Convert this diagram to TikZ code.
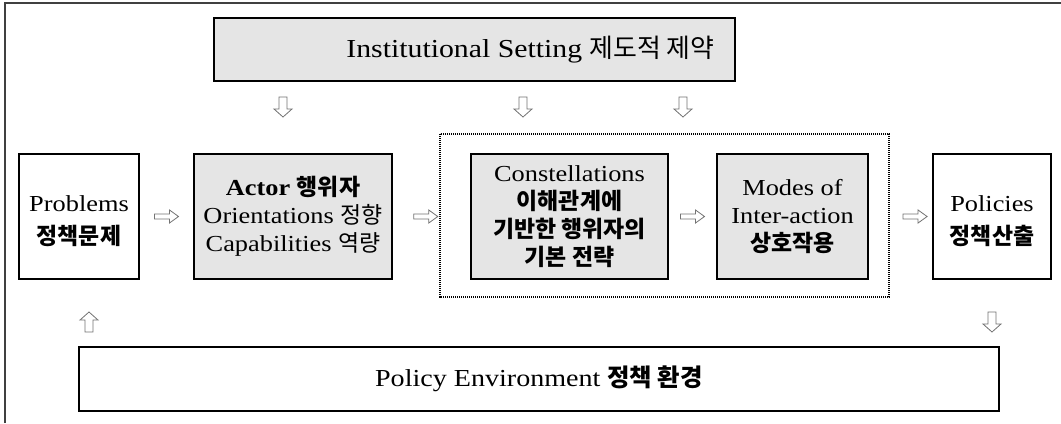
\documentclass[tikz,border=0pt]{standalone}
\usepackage{fontspec}
\usetikzlibrary{calc}
\setmainfont{Liberation Serif}[FakeStretch=1.15]
\newfontfamily\krfont{Noto Sans CJK KR}
\newcommand\kr[1]{{\krfont #1}}
\newcommand\krb[1]{{\krfont\bfseries #1}}
% taller first line, to sit two-line texts a little lower
\newcommand\toplift{\rule{0pt}{25pt}}

\tikzset{
  frameline/.style={line width=1.8bp, draw=black!75},
  box/.style={draw=black, line width=1.1bp, align=center, inner sep=0pt,
              font=\fontsize{23}{28}\selectfont},
  twoline/.style={font=\fontsize{23}{33}\selectfont},
  shaded/.style={box, fill=black!10},
  groupbox/.style={draw=black, line width=1.6bp, dash pattern=on 1.2bp off 0.8bp},
  hollow/.style={draw=black!55, fill=white, line width=0.8bp, line join=miter},
  rarrow/.pic={\path[hollow] (-12,-2.5) -- (3,-2.5) -- (3,-6.5) -- (12,0)
                -- (3,6.5) -- (3,2.5) -- (-12,2.5) -- cycle;},
  darrow/.pic={\path[hollow] (-4,-10) -- (4,-10) -- (4,2) -- (9,2) -- (0,10)
                -- (-9,2) -- (-4,2) -- cycle;},
  uarrow/.pic={\path[hollow] (-4,10) -- (4,10) -- (4,-2) -- (9,-2) -- (0,-10)
                -- (-9,-2) -- (-4,-2) -- cycle;},
}

\begin{document}
\begin{tikzpicture}[x=1bp, y=-1bp]
  \useasboundingbox (0,0) rectangle (1061,423);
  \fill[white] (0,0) rectangle (1061,423);

  % outer frame (top and left edges)
  \draw[frameline] (5,423) -- (5,3) -- (1061,3);

  % institutional setting
  \node[shaded, minimum width=521bp, minimum height=63bp] (inst) at (474.5,49.5) {};
  \node[font=\fontsize{26}{30}\selectfont, inner sep=0pt] (insttext)
        at ($(inst.center)+(56,0)$) {Institutional Setting \kr{제도적 제약}};

  % main chain of boxes
  \node[box, twoline, minimum width=120bp, minimum height=125bp] (prob) at (79,216.5)
        {\toplift Problems\\\krb{정책문제}};
  \node[shaded, minimum width=198bp, minimum height=125bp] (actor) at (293,216.5)
        {\textbf{Actor} \krb{행위자}\\Orientations \kr{정향}\\Capabilities \kr{역량}};
  \node[shaded, minimum width=197bp, minimum height=125bp] (const) at (569.5,216.5)
        {Constellations\\\krb{이해관계에}\\\krb{기반한 행위자의}\\\krb{기본 전략}};
  \node[shaded, minimum width=151bp, minimum height=125bp] (modes) at (792.5,216.5)
        {Modes of\\Inter-action\\\krb{상호작용}};
  \node[box, twoline, minimum width=118bp, minimum height=125bp] (pol) at (992,216.5)
        {\toplift Policies\\\krb{정책산출}};

  % group around constellations and modes
  \draw[groupbox] (440,134) rectangle (889,297);
  \coordinate (grpW) at (440,216.5);
  \coordinate (grpE) at (889,216.5);

  % policy environment
  \node[box, line width=1.4bp, minimum width=920bp, minimum height=64bp,
        font=\fontsize{24.5}{29}\selectfont] (env) at (539,379)
        {Policy Environment \krb{정책 환경}};

  % hollow arrows
  \pic at ($(prob.east)!0.5!(actor.west)$) {rarrow};
  \pic at ($(actor.east)!0.7!(grpW)$) {rarrow};
  \pic at ($(const.east)!0.5!(modes.west)$) {rarrow};
  \pic at ($(grpE)!0.6!(pol.west)$) {rarrow};
  \pic at (283,107) {darrow};
  \pic at (523,107) {darrow};
  \pic at (683,107) {darrow};
  \pic at (pol.south |- 0,322) {darrow};
  \pic at (89,322) {uarrow};
\end{tikzpicture}
\end{document}
